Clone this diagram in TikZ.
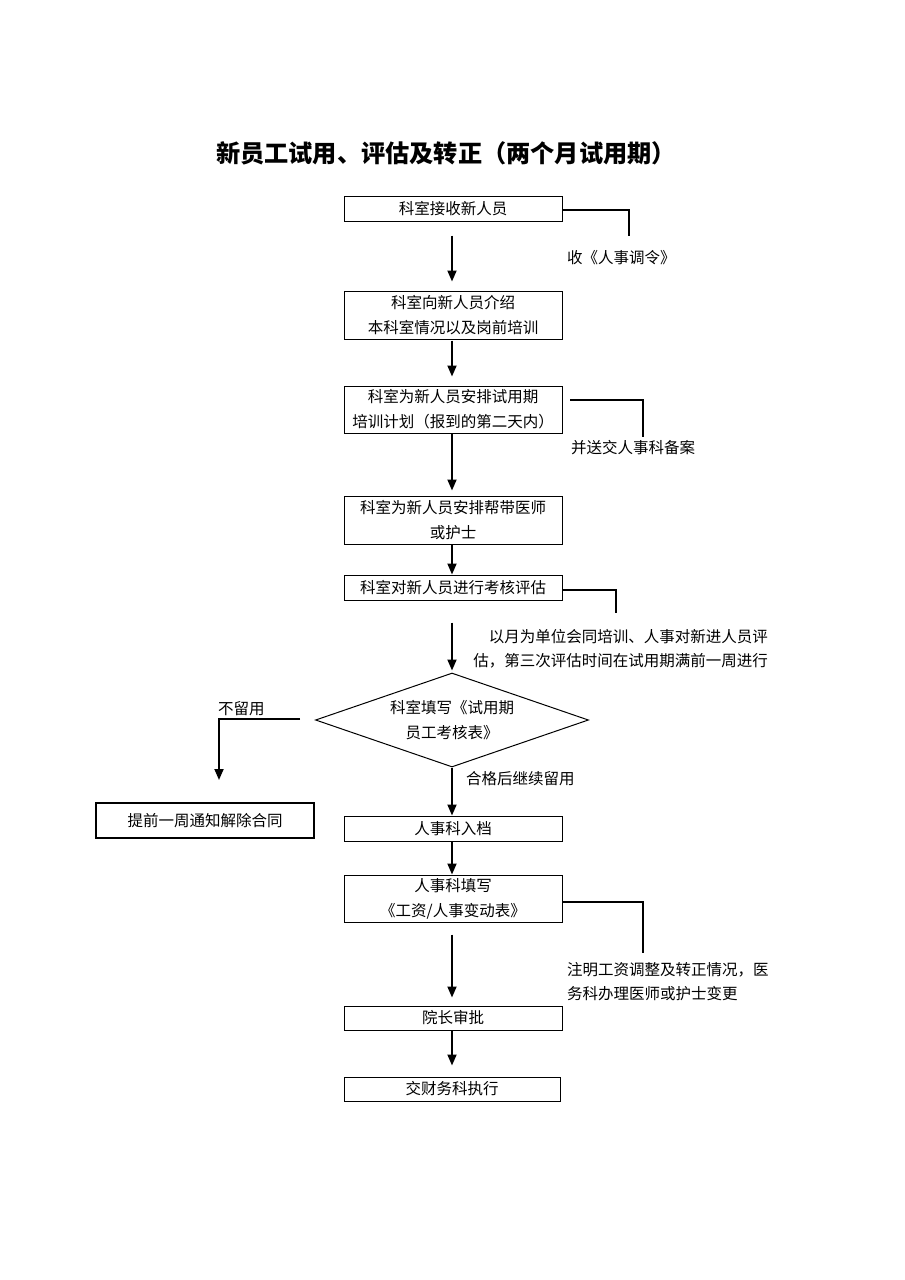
\documentclass[tikz,border=0pt]{standalone}
\usepackage{fontspec}
\setmainfont{Noto Sans CJK SC}
\usetikzlibrary{arrows.meta,shapes.geometric}
\tikzset{
  box/.style={draw, line width=1pt, minimum width=218pt, inner sep=0pt, align=center, font=\fontsize{15.5}{25}\selectfont},
  lbl/.style={inner sep=0pt, font=\fontsize{15.5}{24}\selectfont},
  flow/.style={line width=1.8pt, -{Triangle[width=9pt,length=11pt]}},
  side/.style={line width=1.3pt},
}
\begin{document}
\begin{tikzpicture}[x=1pt,y=-1pt]
\useasboundingbox[fill=white] (0,0) rectangle (905,1280);
\node[inner sep=0pt, font=\fontsize{24.2}{28}\selectfont\bfseries] (title) at (446,153) {新员工试用、评估及转正（两个月试用期）};

\node[box, minimum height=25pt] (b1) at (453,208.5) {科室接收新人员};
\node[box, minimum height=48pt] (b2) at (453,315) {科室向新人员介绍\\本科室情况以及岗前培训};
\node[box, minimum height=47pt] (b3) at (453,409.5) {科室为新人员安排试用期\\培训计划（报到的第二天内）};
\node[box, minimum height=48pt] (b4) at (453,520) {科室为新人员安排帮带医师\\或护士};
\node[box, minimum height=25pt] (b5) at (453,587.5) {科室对新人员进行考核评估};
\node[draw, diamond, line width=1pt, minimum width=273pt, minimum height=94pt, aspect=2.9, inner sep=0pt, align=center, font=\fontsize{15.5}{25}\selectfont] (d) at (452,720) {科室填写《试用期\\员工考核表》};
\node[box, line width=1.5pt, minimum height=35pt] (bl) at (205,820.5) {提前一周通知解除合同};
\node[box, minimum height=25pt] (b6) at (453,828.5) {人事科入档};
\node[box, minimum height=47pt] (b7) at (453,898.5) {人事科填写\\《工资/人事变动表》};
\node[box, minimum height=24pt] (b8) at (453,1018) {院长审批};
\node[box, minimum width=216pt, minimum height=24pt] (b9) at (452,1089) {交财务科执行};

% main arrows
\draw[flow, shorten <=14pt, shorten >=9pt] (b1.south -| 452,0) -- (b2.north -| 452,0);
\draw[flow, shorten <=1pt, shorten >=9pt] (b2.south -| 452,0) -- (b3.north -| 452,0);
\draw[flow, shorten >=5pt] (b3.south -| 452,0) -- (b4.north -| 452,0);
\draw[flow] (b4.south -| 452,0) -- (b5.north -| 452,0);
\draw[flow, shorten <=22pt, shorten >=2pt] (b5.south -| 452,0) -- (d.north);
\draw[flow] (d.south) -- (b6.north -| 452,0);
\draw[flow] (b6.south -| 452,0) -- (b7.north -| 452,0);
\draw[flow, shorten <=12pt, shorten >=8pt] (b7.south -| 452,0) -- (b8.north -| 452,0);
\draw[flow, shorten >=11pt] (b8.south -| 452,0) -- (b9.north -| 452,0);

% left branch
\coordinate (lstart) at (300,719);
\coordinate (ltip) at (219,780);
\draw[flow] (lstart) -- (219,719) -- (ltip);
\node[lbl, anchor=south west] (nolbl) at (218,716) {不留用};
\node[lbl, anchor=west] (passlbl) at (466,779) {合格后继续留用};

% side notes
\coordinate (s1) at (629,236);
\draw[side] (b1.east |- 0,210) -- (629,210) -- (s1);
\node[lbl, anchor=west] (n1) at (567,258) {收《人事调令》};

\coordinate (s3a) at (570,400);
\coordinate (s3) at (643,437);
\draw[side] (s3a) -- (643,400) -- (s3);
\node[lbl, anchor=west] (n3) at (571,448) {并送交人事科备案};

\coordinate (s5) at (616,613);
\draw[side] (b5.east |- 0,590) -- (616,590) -- (s5);
\node[lbl, anchor=east] (n5a) at (768,637) {以月为单位会同培训、人事对新进人员评};
\node[lbl, anchor=east] (n5b) at (768,661) {估，第三次评估时间在试用期满前一周进行};

\coordinate (s7) at (643,953);
\draw[side] (b7.east |- 0,902) -- (643,902) -- (s7);
\node[lbl, anchor=west] (n7a) at (567,970) {注明工资调整及转正情况，医};
\node[lbl, anchor=west] (n7b) at (567,994) {务科办理医师或护士变更};
\end{tikzpicture}
\end{document}
